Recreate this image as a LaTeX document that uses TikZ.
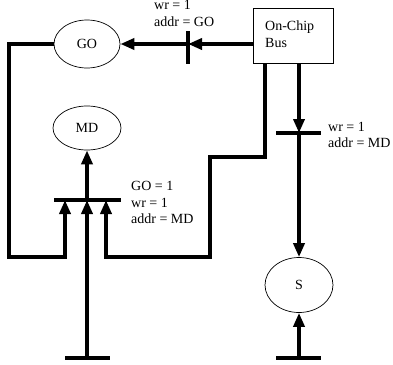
\documentclass[tikz,border=0pt]{standalone}
\usepackage{fontspec}
\setmainfont{Liberation Serif}
\usetikzlibrary{arrows.meta,shapes.geometric}
\begin{document}
\begin{tikzpicture}[x=1pt,y=-1pt,
  wire/.style={line width=4pt},
  arr/.style={wire,-{Triangle[length=14pt,width=11pt]}},
  state/.style={draw,line width=0.7pt,ellipse,inner sep=0pt,font=\fontsize{14}{16}\selectfont},
  lbl/.style={anchor=west,align=left,inner sep=0pt,font=\fontsize{14}{16.5}\selectfont}]
\useasboundingbox (0,0) rectangle (393,364);
% nodes
\node[state,minimum width=66pt,minimum height=48pt] (GO) at (87,44) {GO};
\node[state,minimum width=68pt,minimum height=44pt] (MD) at (87,128) {MD};
\node[state,minimum width=68pt,minimum height=55pt] (S) at (299,285) {S};
\node[draw,line width=0.7pt,minimum width=80pt,minimum height=55pt,inner sep=0pt] (bus) at (293,35.5) {};
\node[lbl] (buslbl) at (265,34) {On-Chip\\Bus};
% coordinates
\coordinate (busL) at (253,44);
\coordinate (b1) at (188,44);
\coordinate (b1t) at (188,31);
\coordinate (b1b) at (188,64);
\coordinate (bus1) at (265,63);
\coordinate (bus2) at (299,63);
\coordinate (b2l) at (54,200);
\coordinate (b2r) at (121,200);
\coordinate (b2m) at (87,200);
\coordinate (b3) at (299,133);
\coordinate (b3l) at (276,133);
\coordinate (b3r) at (321,133);
\coordinate (b4) at (299,358);
\coordinate (b4l) at (276,358);
\coordinate (b4r) at (321,358);
\coordinate (b5) at (87,358);
\coordinate (b5l) at (65,358);
\coordinate (b5r) at (110,358);
% bars
\draw[wire] (b1t) -- (b1b);
\draw[wire] (b2l) -- (b2r);
\draw[wire] (b3l) -- (b3r);
\draw[wire] (b4l) -- (b4r);
\draw[wire] (b5l) -- (b5r);
% connectors
\draw[arr] (busL) -- (b1);
\draw[arr] (b1) -- (GO.east);
\draw[arr] (GO.west) -- (9,44) -- (9,257) -- (65,257) -- (65,200);
\draw[arr] (b5) -- (b2m);
\draw[arr] (bus1) -- (265,157) -- (210,157) -- (210,257) -- (106,257) -- (106,200);
\draw[arr] (b2m) -- (MD.south);
\draw[arr] (bus2) -- (b3);
\draw[arr] (b3) -- (S.north);
\draw[arr] (b4) -- (S.south);
% labels
\node[lbl] (l1) at (154,13.5) {wr = 1\\addr = GO};
\node[lbl] (l2) at (328,135) {wr = 1\\addr = MD};
\node[lbl] (l3) at (131,202.5) {GO = 1\\wr = 1\\addr = MD};
\end{tikzpicture}
\end{document}
